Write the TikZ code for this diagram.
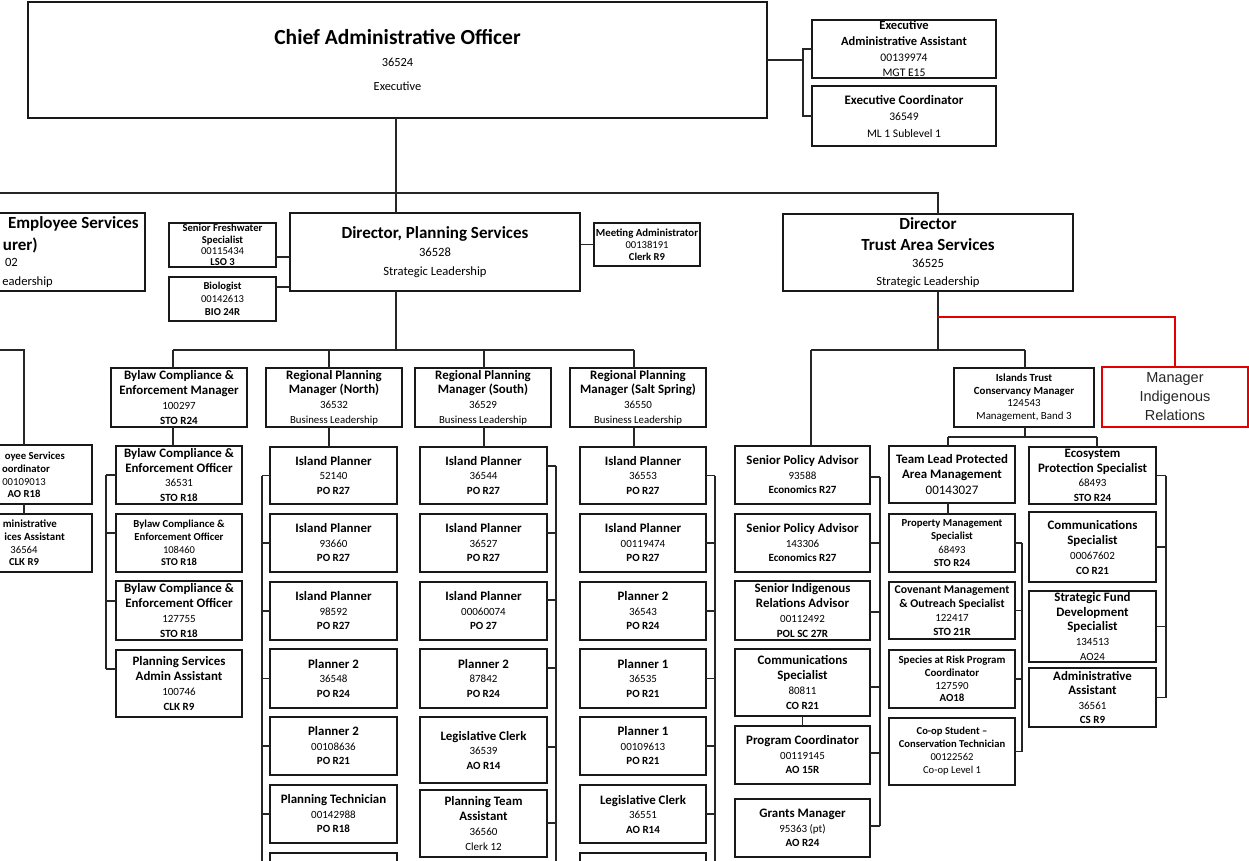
\documentclass[tikz,border=0pt]{standalone}
\usepackage{fontspec}
\setmainfont{Carlito}
\newfontfamily\arialf{Liberation Sans}
\newcommand\fb[2]{{\fontsize{#1}{#1}\selectfont\bfseries #2}}
\newcommand\fr[2]{{\fontsize{#1}{#1}\selectfont #2}}
\tikzset{
  box/.style={draw=black!90,line width=1.5pt,fill=white,inner sep=0pt,outer sep=0pt},
  txt/.style={align=center,inner sep=0pt,text=black,font=\fontsize{11}{14.5}\selectfont},
  lsk/.style={font=\fontsize{11}{#1}\selectfont},
  ln/.style={draw=black!85,line width=1.4pt},
  redln/.style={draw=red!90!black,line width=2pt},
  frag/.style={anchor=east,inner sep=0pt,text=black},
  cfrag/.style={inner sep=0pt,text=black},
}
\newcommand\bx[7][]{%
  \pgfmathsetmacro\bxcx{(#3+#5)/2}%
  \pgfmathsetmacro\bxcy{(#4+#6)/2}%
  \pgfmathsetmacro\bxw{#5-#3}%
  \pgfmathsetmacro\bxh{#6-#4}%
  \node[box,minimum width=\bxw pt,minimum height=\bxh pt] (#2) at (\bxcx,\bxcy) {};%
  \node[txt,#1] (#2-t) at (#2.center) {#7};%
}
\newcommand\pl[8]{\bx[lsk=14.5]{#1}{#2}{#3}{#4}{#5}{\fb{12.9}{#6}\\ \fr{11}{#7}\\ \fb{11}{#8}}}
\begin{document}
\begin{tikzpicture}[x=1pt,y=-1pt]
\fill[white] (0,0) rectangle (1249,861);
\useasboundingbox (0,0) rectangle (1249,861);
\clip (0,0) rectangle (1249,861);

% ---------- top level
\bx[lsk=21.5]{cao}{28}{2}{767}{118}{\fb{21.5}{Chief Administrative Officer}\\ \fr{12.4}{36524}\\[2.5pt] \fr{12.4}{Executive}}
\bx[lsk=15.7]{eaa}{812}{20}{996}{78}{\fb{12.5}{Executive}\\ \fb{12.5}{Administrative Assistant}\\ \fr{11.6}{00139974}\\ \fr{11.6}{MGT E15}}
\bx[lsk=16.5]{ec}{812}{86}{996}{146}{\fb{13}{Executive Coordinator}\\ \fr{11.6}{36549}\\ \fr{11.6}{ML 1 Sublevel 1}}

% ---------- directors
\node[box,minimum width=345pt,minimum height=78pt] (fes) at (-27.5,252) {};
\node[frag] (fes-a) at (139,224) {\fb{17}{Employee Services}};
\node[frag] (fes-b) at (38,245) {\fb{17}{urer)}};
\node[frag] (fes-c) at (18,262) {\fr{12.6}{02}};
\node[frag] (fes-d) at (53,282) {\fr{12.6}{eadership}};
\bx[lsk=18.5]{dps}{290}{213}{580}{291}{\fb{17}{Director, Planning Services}\\ \fr{12.6}{36528}\\ \fr{12.6}{Strategic Leadership}}
\bx[lsk=18.5]{dtas}{783}{214}{1073}{291}{\fb{17}{Director}\\[2.5pt] \fb{17}{Trust Area Services}\\[-1.5pt] \fr{12.6}{36525}\\ \fr{12.6}{Strategic Leadership}}
\bx[lsk=11.3]{sfs}{169}{223}{276}{267}{\fb{10.6}{Senior Freshwater}\\ \fb{10.6}{Specialist}\\ \fr{10.6}{00115434}\\ \fb{10.6}{LSO 3}}
\bx[lsk=13]{bio}{169}{277}{276}{321}{\fb{10.6}{Biologist}\\ \fr{10.6}{00142613}\\ \fb{10.6}{BIO 24R}}
\bx[lsk=12]{ma}{594}{223}{700}{266}{\fb{10.8}{Meeting Administrator}\\ \fr{10.6}{00138191}\\ \fb{10.6}{Clerk R9}}

% ---------- left column (cut off at the edge)
\node[box,minimum width=136pt,minimum height=59pt] (les1) at (24,474.5) {};
\node[frag] (les1-a) at (65,457) {\fb{10.7}{oyee Services}};
\node[frag] (les1-b) at (50,469) {\fb{10.7}{oordinator}};
\node[cfrag] (les1-c) at (24,482) {\fr{10.7}{00109013}};
\node[cfrag] (les1-d) at (24,494) {\fb{10.7}{AO R18}};
\node[box,minimum width=136pt,minimum height=58pt] (les2) at (24,543) {};
\node[frag] (les2-a) at (57,524) {\fb{10.9}{ministrative}};
\node[frag] (les2-b) at (65,537) {\fb{10.9}{ices Assistant}};
\node[cfrag] (les2-c) at (24,550) {\fr{10.7}{36564}};
\node[cfrag] (les2-d) at (24,562) {\fb{10.7}{CLK R9}};

% ---------- bylaw
\bx[lsk=14.7]{bcm}{111}{368}{247}{427}{\fb{12.9}{Bylaw Compliance \&}\\ \fb{12.9}{Enforcement Manager}\\ \fr{11}{100297}\\ \fb{11}{STO R24}}
\bx[lsk=14.7]{bco1}{116}{446}{242}{504}{\fb{12.9}{Bylaw Compliance \&}\\ \fb{12.9}{Enforcement Officer}\\ \fr{11}{36531}\\ \fb{11}{STO R18}}
\bx[lsk=12.8]{bco2}{116}{514}{242}{572}{\fb{10.7}{Bylaw Compliance \&}\\ \fb{10.7}{Enforcement Officer}\\ \fr{10.5}{108460}\\ \fb{10.5}{STO R18}}
\bx[lsk=14.7]{bco3}{116}{581}{242}{640}{\fb{12.9}{Bylaw Compliance \&}\\ \fb{12.9}{Enforcement Officer}\\ \fr{11}{127755}\\ \fb{11}{STO R18}}
\bx[lsk=14.7]{psaa}{116}{650}{242}{717}{\fb{12.9}{Planning Services}\\ \fb{12.9}{Admin Assistant}\\ \fr{11}{100746}\\ \fb{11}{CLK R9}}

% ---------- regional managers
\bx[lsk=14.7]{rpn}{266}{368}{402}{427}{\fb{12.9}{Regional Planning}\\ \fb{12.9}{Manager (North)}\\ \fr{11}{36532}\\ \fr{10.8}{Business Leadership}}
\bx[lsk=14.7]{rps}{415}{368}{551}{427}{\fb{12.9}{Regional Planning}\\ \fb{12.9}{Manager (South)}\\ \fr{11}{36529}\\ \fr{10.8}{Business Leadership}}
\bx[lsk=14.7]{rpss}{570}{368}{706}{427}{\fb{12.9}{Regional Planning}\\ \fb{12.9}{Manager (Salt Spring)}\\ \fr{11}{36550}\\ \fr{10.8}{Business Leadership}}

% north
\pl{n1}{270}{447}{397}{504}{Island Planner}{52140}{PO R27}
\pl{n2}{270}{514}{397}{572}{Island Planner}{93660}{PO R27}
\pl{n3}{270}{582}{397}{640}{Island Planner}{98592}{PO R27}
\pl{n4}{270}{649}{397}{708}{Planner 2}{36548}{PO R24}
\pl{n5}{270}{717}{397}{775}{Planner 2}{00108636}{PO R21}
\pl{n6}{270}{785}{397}{843}{Planning Technician}{00142988}{PO R18}
\node[box,minimum width=127pt,minimum height=60pt] (n7) at (333.5,883) {};
% south
\pl{s1}{420}{447}{547}{504}{Island Planner}{36544}{PO R27}
\pl{s2}{420}{514}{547}{572}{Island Planner}{36527}{PO R27}
\pl{s3}{420}{582}{547}{640}{Island Planner}{00060074}{PO 27}
\pl{s4}{420}{649}{547}{708}{Planner 2}{87842}{PO R24}
\pl{s5}{420}{717}{547}{783}{Legislative Clerk}{36539}{AO R14}
\bx[lsk=14.7]{s6}{420}{790}{547}{857}{\fb{12.9}{Planning Team}\\ \fb{12.9}{Assistant}\\ \fr{11}{36560}\\ \fr{11}{Clerk 12}}
% salt spring
\pl{ss1}{580}{447}{706}{504}{Island Planner}{36553}{PO R27}
\pl{ss2}{580}{514}{706}{572}{Island Planner}{00119474}{PO R27}
\pl{ss3}{580}{582}{706}{640}{Planner 2}{36543}{PO R24}
\pl{ss4}{580}{649}{706}{708}{Planner 1}{36535}{PO R21}
\pl{ss5}{580}{717}{706}{775}{Planner 1}{00109613}{PO R21}
\pl{ss6}{580}{785}{706}{843}{Legislative Clerk}{36551}{AO R14}
\node[box,minimum width=126pt,minimum height=60pt] (ss7) at (643,883) {};

% ---------- trust area services
\pl{p1}{735}{446}{870}{504}{Senior Policy Advisor}{93588}{Economics R27}
\pl{p2}{735}{514}{870}{572}{Senior Policy Advisor}{143306}{Economics R27}
\bx[lsk=14.7]{p3}{735}{581}{870}{640}{\fb{12.9}{Senior Indigenous}\\ \fb{12.9}{Relations Advisor}\\ \fr{11}{00112492}\\ \fb{11}{POL SC 27R}}
\bx[lsk=14.7]{p4}{735}{649}{870}{716}{\fb{12.9}{Communications}\\ \fb{12.9}{Specialist}\\ \fr{11}{80811}\\ \fb{11}{CO R21}}
\pl{p5}{735}{726}{870}{784}{Program Coordinator}{00119145}{AO 15R}
\pl{p6}{735}{799}{870}{857}{Grants Manager}{95363 (pt)}{AO R24}

\bx[lsk=12.7]{icm}{954}{368}{1094}{427}{\fb{10.9}{Islands Trust}\\ \fb{10.9}{Conservancy Manager}\\ \fr{10.9}{124543}\\ \fr{10.9}{Management, Band 3}}
\bx[lsk=15.5]{tl}{889}{446}{1015}{503}{\fb{12.9}{Team Lead Protected}\\ \fb{12.9}{Area Management}\\ \fr{13}{00143027}}
\bx[lsk=13.3]{pm}{889}{514}{1015}{572}{\fb{10.7}{Property Management}\\ \fb{10.7}{Specialist}\\ \fr{10.7}{68493}\\ \fb{10.7}{STO R24}}
\bx[lsk=14]{cov}{889}{582}{1015}{639}{\fb{11.8}{Covenant Management}\\ \fb{11.8}{\& Outreach Specialist}\\ \fr{11}{122417}\\ \fb{11}{STO 21R}}
\bx[lsk=12.8]{sar}{889}{650}{1015}{708}{\fb{10.9}{Species at Risk Program}\\ \fb{10.9}{Coordinator}\\ \fr{10.9}{127590}\\ \fb{10.9}{AO18}}
\bx[lsk=13]{coop}{889}{718}{1015}{785}{\fb{10.6}{Co-op Student –}\\ \fb{10.6}{Conservation Technician}\\ \fr{10.6}{00122562}\\ \fr{10.6}{Co-op Level 1}}

\bx[lsk=14.7]{eps}{1029}{447}{1156}{504}{\fb{12.9}{Ecosystem}\\ \fb{12.9}{Protection Specialist}\\ \fr{11}{68493}\\ \fb{11}{STO R24}}
\bx[lsk=15]{cs2}{1029}{512}{1156}{582}{\fb{12.9}{Communications}\\ \fb{12.9}{Specialist}\\ \fr{11}{00067602}\\ \fb{11}{CO R21}}
\bx[lsk=14.8]{sfd}{1029}{591}{1156}{662}{\fb{12.9}{Strategic Fund}\\ \fb{12.9}{Development}\\ \fb{12.9}{Specialist}\\ \fr{11}{134513}\\ \fr{11}{AO24}}
\bx[lsk=14.3]{aa}{1029}{668}{1156}{727}{\fb{12.9}{Administrative}\\ \fb{12.9}{Assistant}\\ \fr{11}{36561}\\ \fb{11}{CS R9}}

\node[box,draw=red!90!black,line width=2pt,minimum width=146pt,minimum height=60pt] (mir) at (1175,397) {};
\node[txt,font=\arialf\fontsize{14.5}{19}\selectfont,text=black!85] (mir-t) at (mir.center) {Manager\\Indigenous\\Relations};

% ---------- connectors
\coordinate (cx) at (396,0);
\coordinate (busL) at (0,193);
\coordinate (busR) at (938,193);
\draw[ln] (cx |- cao.south) -- (cx |- dps.north);
\draw[ln] (busL) -- (busR) -- (busR |- dtas.north);
\coordinate (ej) at (803,0);
\draw[ln] (cao.east) -- (cao.east -| ej);
\draw[ln] (eaa.west) -- (eaa.west -| ej) -- (ec.west -| ej) -- (ec.west);

\coordinate (fy1) at (0,257);
\coordinate (fy2) at (0,287);
\draw[ln] (sfs.east |- fy1) -- (dps.west |- fy1);
\draw[ln] (bio.east |- fy2) -- (dps.west |- fy2);
\draw[ln] (dps.east |- ma.west) -- (ma.west);

\coordinate (pbusL) at (173,350);
\coordinate (pbusR) at (634,350);
\coordinate (xN) at (329,0);
\coordinate (xS) at (484,0);
\draw[ln] (cx |- dps.south) -- (cx |- pbusL);
\draw[ln] (pbusL) -- (pbusR);
\draw[ln] (pbusL) -- (pbusL |- bcm.north);
\draw[ln] (xN |- pbusL) -- (xN |- rpn.north);
\draw[ln] (xS |- pbusL) -- (xS |- rps.north);
\draw[ln] (pbusR) -- (pbusR |- rpss.north);
\draw[ln] (pbusL |- bcm.south) -- (pbusL |- bco1.north);
\draw[ln] (xN |- rpn.south) -- (xN |- n1.north);
\draw[ln] (xS |- rps.south) -- (xS |- s1.north);
\draw[ln] (pbusR |- rpss.south) -- (pbusR |- ss1.north);

% left column
\coordinate (lc) at (0,350);
\draw[ln] (lc) -| (les1.north);
\draw[ln] (les1.south) -- (les2.north);

% bylaw spine
\coordinate (bs1) at (106,475);
\coordinate (bs2) at (106,533);
\coordinate (bs3) at (106,601);
\coordinate (bs4) at (106,669);
\draw[ln] (bs1) -- (bs4);
\draw[ln] (bs1) -- (bs1 -| bco1.west);
\draw[ln] (bs2) -- (bs2 -| bco2.west);
\draw[ln] (bs3) -- (bs3 -| bco3.west);
\draw[ln] (bs4) -- (bs4 -| psaa.west);

% north spine
\coordinate (ns) at (262,0);
\draw[ln] (ns |- n1.west) -- (ns |- n7.west);
\foreach \b in {n1,n2,n3,n4,n5,n6,n7} \draw[ln] (\b.west) -- (\b.west -| ns);

% south spine
\coordinate (sb1) at (556,466);
\coordinate (sb2) at (556,533);
\coordinate (sb3) at (556,600);
\coordinate (sb4) at (556,668);
\coordinate (sb5) at (556,747);
\coordinate (sb6) at (556,823);
\coordinate (sbe) at (556,880);
\draw[ln] (sb1) -- (sbe);
\draw[ln] (sb1) -- (sb1 -| s1.east);
\draw[ln] (sb2) -- (sb2 -| s2.east);
\draw[ln] (sb3) -- (sb3 -| s3.east);
\draw[ln] (sb4) -- (sb4 -| s4.east);
\draw[ln] (sb5) -- (sb5 -| s5.east);
\draw[ln] (sb6) -- (sb6 -| s6.east);

% salt spring spine
\coordinate (sss) at (715,0);
\draw[ln] (sss |- ss1.east) -- (sss |- ss7.east);
\foreach \b in {ss1,ss2,ss3,ss4,ss5,ss6,ss7} \draw[ln] (\b.east) -- (\b.east -| sss);

% trust area services
\coordinate (tx) at (938,0);
\coordinate (tbL) at (811,350);
\coordinate (tbR) at (1025,350);
\draw[ln] (tx |- dtas.south) -- (tx |- tbL);
\draw[ln] (tbL) -- (tbR);
\draw[ln] (tbL) -- (tbL |- p1.north);
\draw[ln] (tbR) -- (tbR |- icm.north);
\coordinate (cbL) at (948,437);
\coordinate (cbR) at (1097,437);
\draw[ln] (tbR |- icm.south) -- (tbR |- cbL);
\draw[ln] (cbL) -- (cbR);
\draw[ln] (cbL) -- (cbL |- tl.north);
\draw[ln] (cbR) -- (cbR |- eps.north);
\draw[ln] (cbL |- tl.south) -- (cbL |- pm.north);
\draw[ln] (p4.south) -- (p5.north);

% policy spine
\coordinate (pb1) at (880,477);
\coordinate (pb2) at (880,543);
\coordinate (pb3) at (880,612);
\coordinate (pb4) at (880,687);
\coordinate (pb5) at (880,753);
\coordinate (pb6) at (880,826);
\draw[ln] (pb1) -- (pb6);
\draw[ln] (pb1) -- (pb1 -| p1.east);
\draw[ln] (pb2) -- (pb2 -| p2.east);
\draw[ln] (pb3) -- (pb3 -| p3.east);
\draw[ln] (pb4) -- (pb4 -| p4.east);
\draw[ln] (pb5) -- (pb5 -| p5.east);
\draw[ln] (pb6) -- (pb6 -| p6.east);

% team lead spine
\coordinate (tls) at (1022,0);
\draw[ln] (tls |- pm.east) -- (tls |- coop.east);
\foreach \b in {pm,cov,sar,coop} \draw[ln] (\b.east) -- (\b.east -| tls);

% ecosystem spine
\coordinate (es) at (1166,0);
\draw[ln] (es |- eps.east) -- (es |- aa.east);
\foreach \b in {eps,cs2,sfd,aa} \draw[ln] (\b.east) -- (\b.east -| es);

% red link
\coordinate (rj) at (938,317);
\draw[redln] (rj) -| (mir.north);
\end{tikzpicture}
\end{document}
